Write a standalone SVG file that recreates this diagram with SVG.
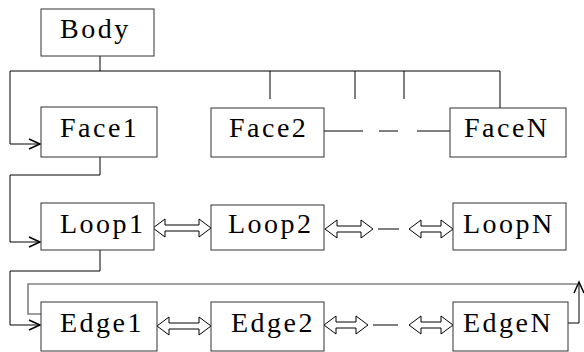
<svg xmlns="http://www.w3.org/2000/svg" width="584" height="352" viewBox="0 0 584 352">
<defs>
<style>
.box{fill:#fff;stroke:#333;stroke-width:1}
.ln{fill:none;stroke:#000;stroke-width:1}
.gr{fill:none;stroke:#808080;stroke-width:1.6}
.dbl{fill:#fff;stroke:#000;stroke-width:1}
.ah{fill:none;stroke:#000;stroke-width:1.5}
</style>
<marker id="open" markerWidth="14" markerHeight="12" refX="12" refY="6" orient="auto" markerUnits="userSpaceOnUse">
<path d="M1,1 L12,6 L1,11" class="ah"/>
</marker>
</defs>
<rect width="584" height="352" fill="#fff"/>
<g id="connectors">
<path class="ln" d="M100,56 V71 M10,71 H500 M270,71 V99 M355,71 V99 M404,71 V99 M500,71 V108"/>
<path class="ln" d="M10,71 V144 H40" marker-end="url(#open)"/>
<path class="ln" d="M100,157 V175 H10 V242 H40" marker-end="url(#open)"/>
<path class="ln" d="M100,250 V271 H10 V325 H40" marker-end="url(#open)"/>
<path class="ln" d="M324,131 H363 M379,131 H398 M417,131 H450"/>
<path class="gr" d="M41,314 H28 V284 H577"/>
<path class="ln" d="M566,323 H579 V282" marker-end="url(#open)"/>
<path class="ln" d="M378,229 H399 M373,325 H398"/>
<path class="dbl" d="M153,228 L165,219 L165,225 L199,225 L199,219 L211,228 L199,237 L199,231 L165,231 L165,237 Z"/>
<path class="dbl" d="M325,229 L337,220 L337,226 L361,226 L361,220 L373,229 L361,238 L361,232 L337,232 L337,238 Z"/>
<path class="dbl" d="M409,229 L421,220 L421,226 L441,226 L441,220 L453,229 L441,238 L441,232 L421,232 L421,238 Z"/>
<path class="dbl" d="M157,326 L169,317 L169,323 L199,323 L199,317 L211,326 L199,335 L199,329 L169,329 L169,335 Z"/>
<path class="dbl" d="M324,325 L336,316 L336,322 L356,322 L356,316 L368,325 L356,334 L356,328 L336,328 L336,334 Z"/>
<path class="dbl" d="M409,325 L421,316 L421,322 L441,322 L441,316 L453,325 L441,334 L441,328 L421,328 L421,334 Z"/>
</g>
<g font-family="'Liberation Serif', 'Times New Roman', serif" font-size="28" letter-spacing="2.5" fill="#000">
<g id="body"><rect class="box" x="41" y="9" width="113" height="47"/><text x="60" y="38">Body</text></g>
<g id="face1"><rect class="box" x="41" y="107" width="116" height="50"/><text x="60" y="137">Face1</text></g>
<g id="face2"><rect class="box" x="211" y="108" width="113" height="49"/><text x="229" y="137">Face2</text></g>
<g id="faceN"><rect class="box" x="450" y="108" width="116" height="49"/><text x="464" y="137">FaceN</text></g>
<g id="loop1"><rect class="box" x="41" y="203" width="113" height="47"/><text x="60" y="233">Loop1</text></g>
<g id="loop2"><rect class="box" x="211" y="205" width="113" height="45"/><text x="228" y="233">Loop2</text></g>
<g id="loopN"><rect class="box" x="453" y="203" width="113" height="47"/><text x="463" y="233">LoopN</text></g>
<g id="edge1"><rect class="box" x="41" y="302" width="116" height="49"/><text x="60" y="332">Edge1</text></g>
<g id="edge2"><rect class="box" x="211" y="302" width="113" height="49"/><text x="231" y="332">Edge2</text></g>
<g id="edgeN"><rect class="box" x="453" y="302" width="115" height="49"/><text x="463" y="332">EdgeN</text></g>
</g>
</svg>
